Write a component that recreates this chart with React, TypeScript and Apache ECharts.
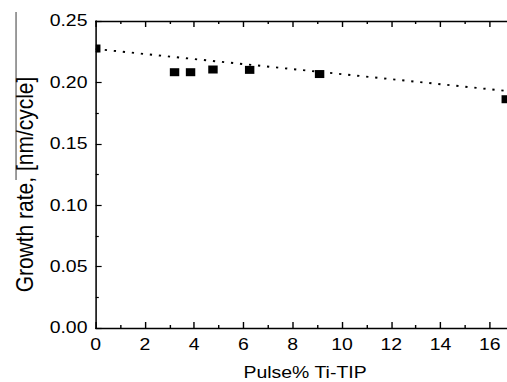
import React, { useEffect, useRef } from "react";
import * as echarts from "echarts";

// Data
const pulsePercent = [0, 3.2, 3.85, 4.76, 6.25, 9.09, 16.67];
const growthRate = [0.2276, 0.2083, 0.2083, 0.2105, 0.2102, 0.2068, 0.1863];
const trendX = [0, 16.7];
const trendY = [0.2272, 0.193];
const xTicks = [0, 2, 4, 6, 8, 10, 12, 14, 16];
const yTicks = [0.0, 0.05, 0.1, 0.15, 0.2, 0.25];

const STRETCH = 507 / 430;
const FONT = "'Liberation Sans', Arial, Helvetica, sans-serif";

export default function App() {
  const ref = useRef<HTMLDivElement>(null);
  useEffect(() => {
    if (!ref.current) return;
    const chart = echarts.init(ref.current, undefined, { renderer: "svg" });
    const axisLine = { show: true, lineStyle: { color: "#000", width: 1.3 } };
    const xMin = xTicks[0];
    const xMax = 17;
    const gridLeft = 81.2;
    const pxPerUnit = (430 - gridLeft) / 16.7;
    const gridWidth = (xMax - xMin) * pxPerUnit;
    const scatterData = pulsePercent.map((x, i) => [x, growthRate[i]]);
    const trendData = trendX.map((x, i) => [x, trendY[i]]);
    chart.setOption({
      animation: false,
      grid: {
        left: gridLeft,
        top: 21,
        width: gridWidth,
        bottom: 54,
        containLabel: false,
        outerBoundsMode: "none",
      },
      xAxis: [
        {
          type: "value",
          min: xMin,
          max: xMax,
          interval: 2,
          position: "bottom",
          name: "Pulse% Ti-TIP",
          nameLocation: "middle",
          nameGap: 36,
          nameTextStyle: { fontFamily: FONT, fontSize: 16.5, color: "#000", padding: [0, 0, 0, 0] },
          axisLine,
          axisTick: { show: true, inside: true, length: 6, lineStyle: { color: "#000", width: 1.2 } },
          minorTick: { show: true, splitNumber: 2, length: 3, lineStyle: { color: "#000", width: 1.2 } },
          splitLine: { show: false },
          axisLabel: {
            fontFamily: FONT,
            fontSize: 16.5,
            color: "#000",
            margin: 8,
            showMaxLabel: false,
            formatter: (v: number) => (xTicks.includes(v) ? String(v) : ""),
          },
        },
        {
          type: "value",
          min: xMin,
          max: xMax,
          interval: 2,
          position: "top",
          axisLine,
          axisTick: { show: true, inside: true, length: 6, lineStyle: { color: "#000", width: 1.2 } },
          minorTick: { show: true, splitNumber: 2, length: 3, lineStyle: { color: "#000", width: 1.2 } },
          splitLine: { show: false },
          axisLabel: { show: false },
        },
      ],
      yAxis: {
        type: "value",
        min: yTicks[0],
        max: yTicks[yTicks.length - 1],
        interval: 0.05,
        name: "Growth rate, [nm/cycle]",
        nameLocation: "middle",
        nameGap: 50,
        nameTextStyle: { fontFamily: FONT, fontSize: 21, color: "#000", padding: [0, 20, 0, 0] },
        axisLine,
        axisTick: { show: true, inside: true, length: 5, lineStyle: { color: "#000", width: 1.2 } },
        minorTick: { show: true, splitNumber: 2, length: 2.6, lineStyle: { color: "#000", width: 1.2 } },
        splitLine: { show: false },
        axisLabel: {
          fontFamily: FONT,
          fontSize: 16.5,
          color: "#000",
          margin: 7,
          formatter: (v: number) => v.toFixed(2),
        },
      },
      graphic: [
        {
          type: "line",
          shape: { x1: 13.6, y1: 12, x2: 13.6, y2: 180 },
          style: { stroke: "#444", lineWidth: 0.9 },
        },
      ],
      series: [
        {
          name: "Linear fit",
          type: "line",
          data: trendData,
          symbol: "none",
          lineStyle: { color: "#000", width: 1.9, type: [1.9, 5.8] },
          z: 2,
        },
        {
          name: "Growth rate",
          type: "custom",
          data: scatterData,
          z: 3,
          renderItem: (params: any, api: any) => {
            const p = api.coord([api.value(0), api.value(1)]);
            const w = 8;
            const h = 8;
            const cs = params.coordSys;
            const shape = echarts.graphic.clipRectByRect(
              { x: p[0] - w / 2, y: p[1] - h / 2, width: w, height: h },
              { x: cs.x, y: cs.y, width: cs.width, height: cs.height }
            );
            if (!shape) return null;
            return { type: "rect", shape, style: { fill: "#000" } };
          },
        },
      ],
    });
    return () => chart.dispose();
  }, []);
  return (
    <div
      style={{
        position: "fixed",
        left: 0,
        top: 0,
        width: 507,
        height: 382,
        overflow: "hidden",
        background: "#fff",
      }}
    >
      <div
        ref={ref}
        style={{
          width: 430,
          height: 382,
          transform: `scaleX(${STRETCH})`,
          transformOrigin: "0 0",
        }}
      />
    </div>
  );
}
